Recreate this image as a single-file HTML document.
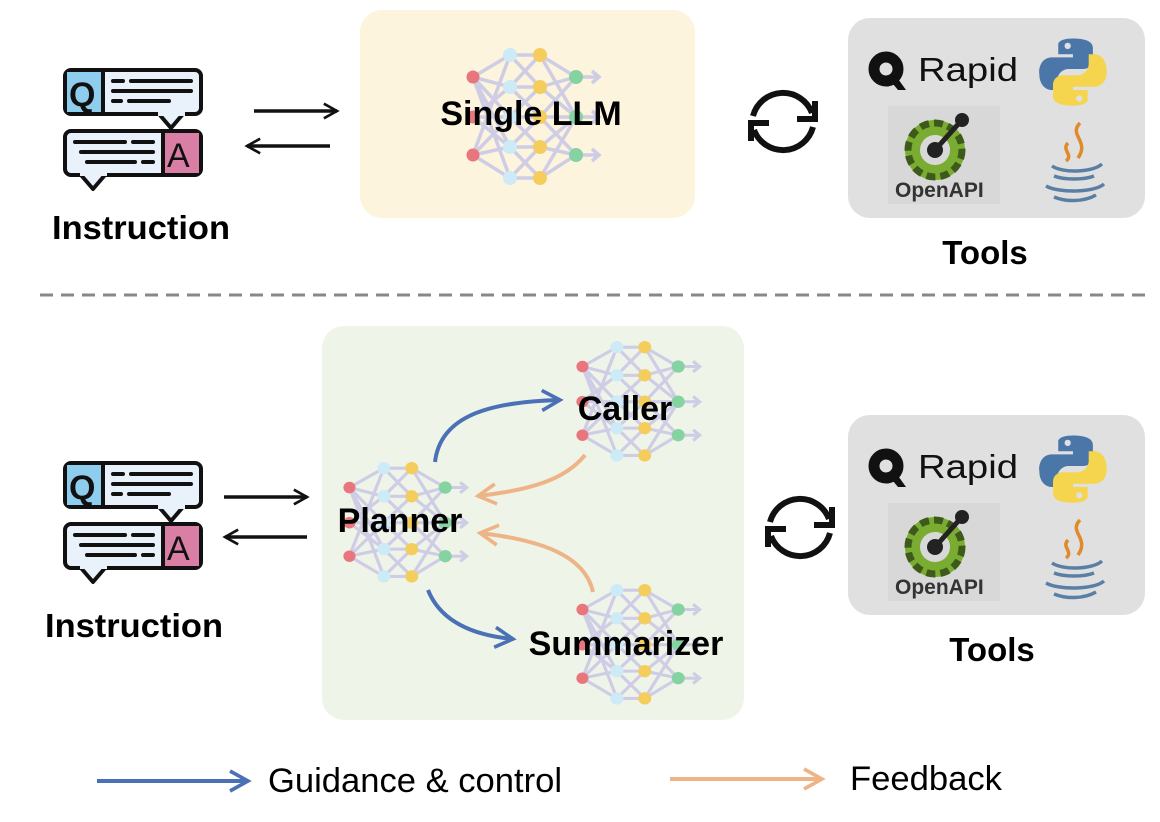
<!DOCTYPE html>
<html><head><meta charset="utf-8"><style>
html,body{margin:0;padding:0;background:#fff;}
svg{display:block;}
text{font-family:"Liberation Sans",Arial,sans-serif;}
</style></head><body>
<svg width="1160" height="822" viewBox="0 0 1160 822" xmlns="http://www.w3.org/2000/svg">
<defs>
<g id="net">
 <g stroke="#cfcce6" stroke-width="3.5" fill="none">
  <path d="M8 29L45 7M8 29L45 39M8 29L45 69M8 29L45 99M8 69L45 39M8 69L45 69M8 69L45 99M8 107L45 69M8 107L45 99M8 107L45 130M8 29L45 130M8 107L45 7"/>
  <path d="M45 7L75 7M45 7L75 39M45 39L75 7M45 39L75 39M45 39L75 69M45 69L75 39M45 69L75 69M45 69L75 99M45 99L75 69M45 99L75 99M45 99L75 130M45 130L75 99M45 130L75 130"/>
  <path d="M75 7L111 29M75 39L111 29M75 39L111 69M75 69L111 29M75 69L111 69M75 69L111 107M75 99L111 69M75 99L111 107M75 130L111 107M75 7L111 69M75 130L111 69"/>
  <path d="M111 29H133M111 69H133M111 107H133M127 23l7 6-7 6M127 63l7 6-7 6M127 101l7 6-7 6"/>
 </g>
 <g fill="#e8767c"><circle cx="8" cy="29" r="6.5"/><circle cx="8" cy="69" r="6.5"/><circle cx="8" cy="107" r="6.5"/></g>
 <g fill="#cdeaf7"><circle cx="45" cy="7" r="7"/><circle cx="45" cy="39" r="7"/><circle cx="45" cy="69" r="7"/><circle cx="45" cy="99" r="7"/><circle cx="45" cy="130" r="7"/></g>
 <g fill="#f4cd5c"><circle cx="75" cy="7" r="7"/><circle cx="75" cy="39" r="7"/><circle cx="75" cy="69" r="7"/><circle cx="75" cy="99" r="7"/><circle cx="75" cy="130" r="7"/></g>
 <g fill="#85d3a0"><circle cx="111" cy="29" r="7"/><circle cx="111" cy="69" r="7"/><circle cx="111" cy="107" r="7"/></g>
</g>
<g id="qa">
 <rect x="2" y="2" width="136" height="44" rx="6" fill="#e9f1fb" stroke="#111" stroke-width="4"/>
 <rect x="4" y="4" width="36" height="40" fill="#8fcdee"/>
 <line x1="40" y1="3" x2="40" y2="45" stroke="#111" stroke-width="4"/>
 <text x="6" y="38" font-size="34" font-weight="bold" fill="#111">Q</text>
 <path d="M96 46l12 14 12-14" fill="#e9f1fb" stroke="#111" stroke-width="4" stroke-linejoin="round"/>
 <rect x="95" y="43" width="27" height="5" fill="#e9f1fb"/>
 <g stroke="#111" stroke-width="4" stroke-linecap="round"><path d="M50 13h10M68 13h60M50 23h78M50 33h8M66 33h40"/></g>
 <rect x="2" y="63" width="136" height="44" rx="6" fill="#e9f1fb" stroke="#111" stroke-width="4"/>
 <rect x="100" y="65" width="36" height="40" fill="#d97ea4"/>
 <line x1="100" y1="64" x2="100" y2="106" stroke="#111" stroke-width="4"/>
 <text x="104" y="99" font-size="34" fill="#111">A</text>
 <path d="M18 107l12 14 12-14" fill="#e9f1fb" stroke="#111" stroke-width="4" stroke-linejoin="round"/>
 <rect x="17" y="103" width="27" height="5" fill="#e9f1fb"/>
 <g stroke="#111" stroke-width="4" stroke-linecap="round"><path d="M12 74h50M70 74h20M18 84h72M24 94h48M80 94h10"/></g>
</g>
<g id="cyc" fill="none" stroke="#111" stroke-width="6">
 <path d="M-30 -5 A31 31 0 0 1 29 -8"/>
 <path d="M30 6 A31 31 0 0 1 -29 9"/>
 <path d="M14 -2H32V-20"/>
 <path d="M-14 2H-32V20"/>
</g>
<g id="tools">
 <rect x="0" y="0" width="297" height="200" rx="22" fill="#e0e0e0"/>
 <circle cx="38" cy="51" r="12" fill="none" stroke="#111" stroke-width="11"/>
 <path d="M40 60l10 12h8l-10-14z" fill="#111"/>
 <text x="70" y="63" font-size="33" fill="#111" textLength="100" lengthAdjust="spacingAndGlyphs">Rapid</text>
 <g transform="translate(184,10) scale(1.05)">
 <path d="M39 10c-15 0-14 6-14 6v9h14v3h-20c-10 0-13 10-12 16 0 10 6 15 12 15h5v-9c0-6 5-11 11-11h14c5 0 9-4 9-9v-11c0-5-5-9-19-9z" fill="#4a76a8"/>
 <path d="M39 74c15 0 14-6 14-6v-9h-14v-3h20c10 0 13-10 12-16 0-10-6-15-12-15h-5v9c0 6-5 11-11 11h-14c-5 0-9 4-9 9v11c0 5 5 9 19 9z" fill="#f5d44e"/>
 <circle cx="34" cy="17" r="3" fill="#e0e0e0"/><circle cx="45" cy="67" r="3" fill="#e0e0e0"/>
 </g>
 <rect x="40" y="88" width="112" height="98" fill="#d8d8d8"/>
 <circle cx="87" cy="132" r="30" fill="#7aac32"/>
 <circle cx="87" cy="132" r="27" fill="none" stroke="#3d5a1a" stroke-width="7" stroke-dasharray="9 5"/>
 <circle cx="87" cy="132" r="15" fill="#d8d8d8"/>
 <path d="M87 132V117A15 15 0 0 1 102 132z" fill="#d8d8d8"/>
 <circle cx="87" cy="132" r="8" fill="#222"/>
 <line x1="87" y1="132" x2="113" y2="103" stroke="#222" stroke-width="5"/>
 <circle cx="114" cy="102" r="7" fill="#222"/>
 <text x="47" y="179" font-size="21" font-weight="bold" fill="#333">OpenAPI</text>
 <g fill="none" stroke="#e08a2a" stroke-width="3.5"><path d="M232 105c-12 12 10 18-2 35M220 125c-7 7 6 12-2 18"/></g>
 <g fill="none" stroke="#5a7fa5" stroke-width="3.5"><path d="M204 148c10 7 40 7 50-2M206 158c10 4 30 4 40 0M198 168c12 7 48 7 58-2M206 179c12 5 30 5 42-2"/></g>
</g>
<marker id="mb" viewBox="0 0 12 12" refX="10" refY="6" markerWidth="6" markerHeight="6" orient="auto"><path d="M1 1L10 6L1 11" fill="none" stroke="#4a70b5" stroke-width="1.8"/></marker>
<marker id="mo" viewBox="0 0 12 12" refX="10" refY="6" markerWidth="6" markerHeight="6" orient="auto"><path d="M1 1L10 6L1 11" fill="none" stroke="#edb488" stroke-width="1.8"/></marker>
<marker id="mk" viewBox="0 0 12 12" refX="10" refY="6" markerWidth="5" markerHeight="5" orient="auto"><path d="M1 1L10 6L1 11" fill="none" stroke="#111" stroke-width="1.8"/></marker>
</defs>

<!-- TOP -->
<use href="#qa" x="63" y="68"/>
<text x="52" y="239" font-size="33" font-weight="bold" fill="#000" textLength="178" lengthAdjust="spacingAndGlyphs">Instruction</text>
<line x1="254" y1="111" x2="337" y2="111" stroke="#111" stroke-width="3.5" marker-end="url(#mk)"/>
<line x1="330" y1="146" x2="247" y2="146" stroke="#111" stroke-width="3.5" marker-end="url(#mk)"/>
<rect x="360" y="10" width="335" height="208" rx="22" fill="#fcf4dc"/>
<use href="#net" x="465" y="48"/>
<text x="531" y="125" font-size="34" font-weight="bold" fill="#000" text-anchor="middle">Single LLM</text>
<use href="#cyc" x="783" y="121"/>
<use href="#tools" x="848" y="18"/>
<text x="985" y="264" font-size="33" font-weight="bold" fill="#000" text-anchor="middle">Tools</text>

<line x1="40" y1="295" x2="1146" y2="295" stroke="#888" stroke-width="3" stroke-dasharray="13 8"/>

<!-- BOTTOM -->
<use href="#qa" x="63" y="461"/>
<text x="45" y="637" font-size="33" font-weight="bold" fill="#000" textLength="178" lengthAdjust="spacingAndGlyphs">Instruction</text>
<line x1="224" y1="497" x2="307" y2="497" stroke="#111" stroke-width="3.5" marker-end="url(#mk)"/>
<line x1="307" y1="537" x2="225" y2="537" stroke="#111" stroke-width="3.5" marker-end="url(#mk)"/>
<rect x="322" y="326" width="422" height="394" rx="22" fill="#eff4e8"/>
<g transform="translate(342,462) scale(0.93,0.88)"><use href="#net"/></g>
<g transform="translate(575,341) scale(0.93,0.88)"><use href="#net"/></g>
<g transform="translate(575,584) scale(0.93,0.88)"><use href="#net"/></g>
<path d="M435 462C440 420 480 402 560 400" fill="none" stroke="#4a70b5" stroke-width="4" marker-end="url(#mb)"/>
<path d="M585 455C565 480 530 490 478 496" fill="none" stroke="#edb488" stroke-width="4" marker-end="url(#mo)"/>
<path d="M593 592C585 555 540 540 480 533" fill="none" stroke="#edb488" stroke-width="4" marker-end="url(#mo)"/>
<path d="M428 590C440 620 470 635 513 639" fill="none" stroke="#4a70b5" stroke-width="4" marker-end="url(#mb)"/>
<text x="625" y="420" font-size="34" font-weight="bold" fill="#000" text-anchor="middle">Caller</text>
<text x="400" y="532" font-size="34" font-weight="bold" fill="#000" text-anchor="middle">Planner</text>
<text x="626" y="655" font-size="34" font-weight="bold" fill="#000" text-anchor="middle">Summarizer</text>
<use href="#cyc" x="800" y="527"/>
<use href="#tools" x="848" y="415"/>
<text x="992" y="661" font-size="33" font-weight="bold" fill="#000" text-anchor="middle">Tools</text>

<!-- legend -->
<line x1="97" y1="781" x2="248" y2="781" stroke="#4a70b5" stroke-width="4" marker-end="url(#mb)"/>
<text x="268" y="792" font-size="34" fill="#000" textLength="294" lengthAdjust="spacingAndGlyphs">Guidance &amp; control</text>
<line x1="670" y1="779" x2="822" y2="779" stroke="#edb488" stroke-width="4" marker-end="url(#mo)"/>
<text x="850" y="790" font-size="34" fill="#000" textLength="152" lengthAdjust="spacingAndGlyphs">Feedback</text>
</svg>
</body></html>
